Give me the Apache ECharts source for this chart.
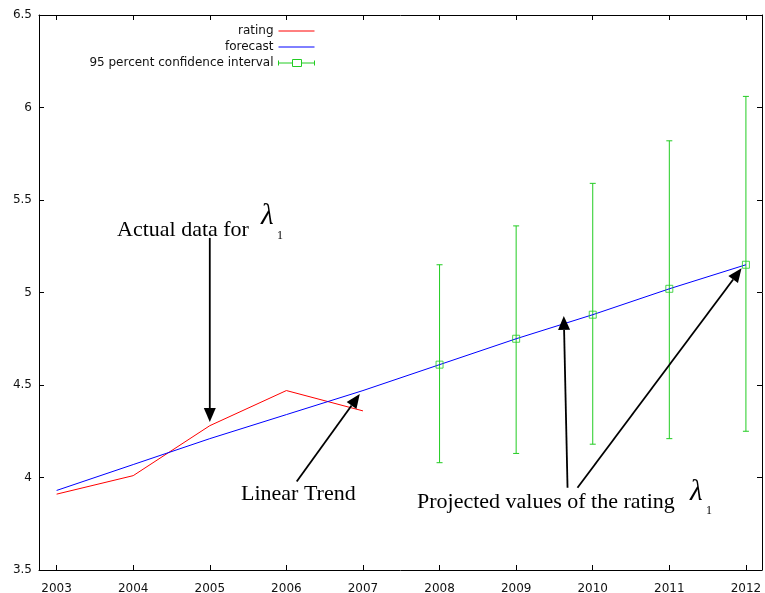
<!DOCTYPE html>
<html>
<head>
<meta charset="utf-8">
<script src="https://cdn.jsdelivr.net/npm/echarts@6/dist/echarts.min.js"></script>
<style>
  html, body { margin: 0; padding: 0; background: #fff; }
  #chart { width: 765px; height: 593px; }
</style>
</head>
<body>
<div id="chart"></div>
<script>
// Observed rating
const ratingYears = [2003, 2004, 2005, 2006, 2007];
const ratingValues = [3.91, 4.01, 4.28, 4.47, 4.36];

// Linear-trend forecast
const forecastYears = [2003, 2004, 2005, 2006, 2007, 2008, 2009, 2010, 2011, 2012];
const forecastValues = [3.93, 4.07, 4.21, 4.34, 4.47, 4.61, 4.75, 4.88, 5.02, 5.15];

// 95 percent confidence interval of the projected values
const ciYears = [2008, 2009, 2010, 2011, 2012];
const ciCenter = [4.61, 4.75, 4.88, 5.02, 5.15];
const ciLower = [4.08, 4.13, 4.18, 4.21, 4.25];
const ciUpper = [5.15, 5.36, 5.59, 5.82, 6.06];

// Axis ticks
const xTicks = [2003, 2004, 2005, 2006, 2007, 2008, 2009, 2010, 2011, 2012];

// Annotation arrows (tail -> head), in data units
const arrows = [
  { from: [2005.00, 5.295], to: [2005.00, 4.300] },
  { from: [2006.135, 3.978], to: [2006.958, 4.451] },
  { from: [2009.671, 3.945], to: [2009.622, 4.873] },
  { from: [2009.801, 3.945], to: [2011.943, 5.131] }
];

const RED = '#ff0000', BLUE = '#0000ff', GREEN = '#22cc22';
const tickFont = { fontFamily: 'DejaVu Sans', fontSize: 12, color: '#111' };
const serif = '"Liberation Serif", "Times New Roman", serif';

const chart = echarts.init(document.getElementById('chart'), null, { renderer: 'canvas' });

const xBase = {
  type: 'value', min: 2002.77, max: 2012.21,
  splitLine: { show: false },
  axisLine: { show: true, onZero: false, lineStyle: { color: '#000', width: 1 } },
  axisTick: { show: true, inside: true, length: 5, customValues: xTicks, lineStyle: { color: '#000' } }
};
const yBase = {
  type: 'value', min: 3.5, max: 6.5, interval: 0.5,
  splitLine: { show: false },
  axisLine: { show: true, onZero: false, lineStyle: { color: '#000', width: 1 } },
  axisTick: { show: true, inside: true, length: 5, lineStyle: { color: '#000' } }
};

const ciName = '95 percent confidence interval';
// legend keys: a plain horizontal stroke, and the error bar with its square marker
const lineKey = 'path://M0,0L0,0M0,3.5L36,3.5M0,7L0,7';
const ciKey = 'path://M0,1L0,6M0,3.5L14,3.5M23,3.5L36,3.5M36,1L36,6M14,0L23,0L23,7L14,7Z';

function legendAt(top, name, icon, color) {
  return {
    orient: 'horizontal', right: 450, top: top, padding: 0,
    align: 'right', itemWidth: 36, itemHeight: 7,
    selectedMode: false,
    textStyle: { fontFamily: 'DejaVu Sans', fontSize: 12, color: '#111', lineHeight: 14 },
    data: [{ name: name, icon: icon,
      itemStyle: { color: 'transparent', borderColor: color, borderWidth: 1 } }]
  };
}

const option = {
  animation: false,
  backgroundColor: '#fff',
  grid: { left: 39, right: 3, top: 15, bottom: 23, containLabel: false, outerBoundsMode: 'none' },
  legend: [
    legendAt(24, 'rating', lineKey, RED),
    legendAt(40, 'forecast', lineKey, BLUE),
    legendAt(56, ciName, ciKey, GREEN)
  ],
  xAxis: [
    Object.assign({}, xBase, {
      position: 'bottom',
      axisLabel: { show: true, customValues: xTicks, margin: 13, formatter: v => String(v), ...tickFont }
    }),
    Object.assign({}, xBase, { position: 'top', axisLabel: { show: false } })
  ],
  yAxis: [
    Object.assign({}, yBase, {
      position: 'left',
      axisLabel: { show: true, margin: 7, formatter: v => String(v), ...tickFont }
    }),
    Object.assign({}, yBase, { position: 'right', axisLabel: { show: false } })
  ],
  series: [
    {
      name: 'rating', type: 'line', symbol: 'none',
      lineStyle: { color: RED, width: 1 }, itemStyle: { color: RED },
      data: ratingYears.map((y, i) => [y, ratingValues[i]]),
      z: 3
    },
    {
      name: 'forecast', type: 'line', symbol: 'none',
      lineStyle: { color: BLUE, width: 1 }, itemStyle: { color: BLUE },
      data: forecastYears.map((y, i) => [y, forecastValues[i]]),
      z: 4
    },
    {
      name: ciName, type: 'custom',
      itemStyle: { color: GREEN },
      encode: { x: 0, y: [1, 2] },
      data: ciYears.map((y, i) => [y, ciLower[i], ciUpper[i]]),
      renderItem: function (params, api) {
        const x = api.value(0);
        const lo = api.coord([x, api.value(1)]);
        const hi = api.coord([x, api.value(2)]);
        const hw = 3;
        const st = { stroke: GREEN, lineWidth: 1 };
        return {
          type: 'group',
          children: [
            { type: 'line', shape: { x1: lo[0], y1: lo[1], x2: hi[0], y2: hi[1] }, style: st },
            { type: 'line', shape: { x1: lo[0] - hw, y1: lo[1], x2: lo[0] + hw, y2: lo[1] }, style: st },
            { type: 'line', shape: { x1: hi[0] - hw, y1: hi[1], x2: hi[0] + hw, y2: hi[1] }, style: st }
          ]
        };
      },
      z: 2
    },
    {
      name: ciName, type: 'scatter', symbol: 'rect', symbolSize: 7,
      itemStyle: { color: 'transparent', borderColor: GREEN, borderWidth: 1 },
      data: ciYears.map((y, i) => [y, ciCenter[i]]),
      z: 5
    }
  ]
};

chart.setOption(option);

// Annotation arrows and captions
function arrowShapes(a) {
  const p0 = chart.convertToPixel({ gridIndex: 0 }, a.from);
  const p1 = chart.convertToPixel({ gridIndex: 0 }, a.to);
  const dx = p1[0] - p0[0], dy = p1[1] - p0[1];
  const len = Math.sqrt(dx * dx + dy * dy);
  const ux = dx / len, uy = dy / len;
  const headLen = 14, headHalf = 6;
  const bx = p1[0] - ux * headLen, by = p1[1] - uy * headLen;
  return [
    { type: 'line', silent: true, z: 100,
      shape: { x1: p0[0], y1: p0[1], x2: bx, y2: by },
      style: { stroke: '#000', lineWidth: 1.8 } },
    { type: 'polygon', silent: true, z: 100,
      shape: { points: [[p1[0], p1[1]], [bx - uy * headHalf, by + ux * headHalf], [bx + uy * headHalf, by - ux * headHalf]] },
      style: { fill: '#000' } }
  ];
}

function caption(text, x, y, size, italic) {
  return {
    type: 'text', silent: true, z: 100, x: x, y: y,
    style: {
      text: text, fill: '#000',
      font: (italic ? 'italic ' : '') + size + 'px ' + serif,
      align: 'left', verticalAlign: 'middle'
    }
  };
}

const graphics = [];
arrows.forEach(a => arrowShapes(a).forEach(g => graphics.push(g)));
graphics.push(caption('Actual data for', 117, 230.5, 22, false));
graphics.push(caption('\u03bb', 261, 216, 29, true));
graphics.push(caption('1', 277, 236, 12, false));
graphics.push(caption('Linear Trend', 241, 494.5, 22, false));
graphics.push(caption('Projected values of the rating', 417, 502.5, 22, false));
graphics.push(caption('\u03bb', 690, 492, 29, true));
graphics.push(caption('1', 706, 511, 12, false));

chart.setOption({ graphic: graphics });
</script>
</body>
</html>
